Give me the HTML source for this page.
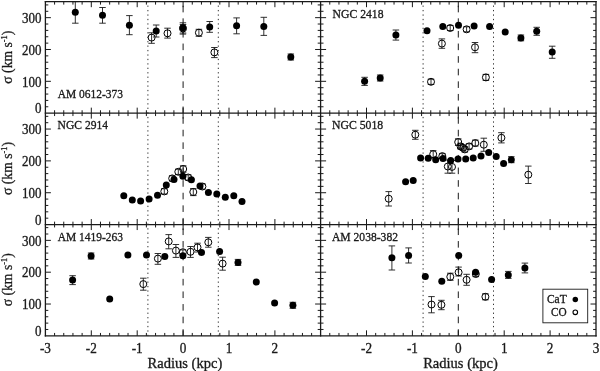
<!DOCTYPE html>
<html><head><meta charset="utf-8"><style>
html,body{margin:0;padding:0;background:#fff;}
svg{display:block;will-change:transform;}
text{font-family:"Liberation Serif",serif;fill:#1a1a1a;stroke:#1a1a1a;stroke-width:0.3px;}
</style></head><body>
<svg width="600" height="371" viewBox="0 0 600 371">
<rect width="600" height="371" fill="#fff"/>
<line x1="44.75" y1="1.70" x2="596.65" y2="1.70" stroke="#1a1a1a" stroke-width="1.3"/>
<line x1="44.75" y1="113.15" x2="596.65" y2="113.15" stroke="#1a1a1a" stroke-width="1.3"/>
<line x1="44.75" y1="224.55" x2="596.65" y2="224.55" stroke="#1a1a1a" stroke-width="1.3"/>
<line x1="44.75" y1="335.85" x2="596.65" y2="335.85" stroke="#1a1a1a" stroke-width="1.3"/>
<line x1="45.40" y1="1.10" x2="45.40" y2="336.45" stroke="#1a1a1a" stroke-width="1.3"/>
<line x1="320.60" y1="1.10" x2="320.60" y2="336.45" stroke="#1a1a1a" stroke-width="1.3"/>
<line x1="596.00" y1="1.10" x2="596.00" y2="336.45" stroke="#1a1a1a" stroke-width="1.3"/>
<path d="M54.58 1.70L54.58 4.60M54.58 110.25L54.58 116.05M54.58 221.65L54.58 227.45M54.58 332.95L54.58 335.85M63.76 1.70L63.76 4.60M63.76 110.25L63.76 116.05M63.76 221.65L63.76 227.45M63.76 332.95L63.76 335.85M72.94 1.70L72.94 4.60M72.94 110.25L72.94 116.05M72.94 221.65L72.94 227.45M72.94 332.95L72.94 335.85M82.12 1.70L82.12 4.60M82.12 110.25L82.12 116.05M82.12 221.65L82.12 227.45M82.12 332.95L82.12 335.85M91.30 1.70L91.30 7.20M91.30 107.65L91.30 118.65M91.30 219.05L91.30 230.05M91.30 330.35L91.30 335.85M100.48 1.70L100.48 4.60M100.48 110.25L100.48 116.05M100.48 221.65L100.48 227.45M100.48 332.95L100.48 335.85M109.66 1.70L109.66 4.60M109.66 110.25L109.66 116.05M109.66 221.65L109.66 227.45M109.66 332.95L109.66 335.85M118.84 1.70L118.84 4.60M118.84 110.25L118.84 116.05M118.84 221.65L118.84 227.45M118.84 332.95L118.84 335.85M128.02 1.70L128.02 4.60M128.02 110.25L128.02 116.05M128.02 221.65L128.02 227.45M128.02 332.95L128.02 335.85M137.20 1.70L137.20 7.20M137.20 107.65L137.20 118.65M137.20 219.05L137.20 230.05M137.20 330.35L137.20 335.85M146.38 1.70L146.38 4.60M146.38 110.25L146.38 116.05M146.38 221.65L146.38 227.45M146.38 332.95L146.38 335.85M155.56 1.70L155.56 4.60M155.56 110.25L155.56 116.05M155.56 221.65L155.56 227.45M155.56 332.95L155.56 335.85M164.74 1.70L164.74 4.60M164.74 110.25L164.74 116.05M164.74 221.65L164.74 227.45M164.74 332.95L164.74 335.85M173.92 1.70L173.92 4.60M173.92 110.25L173.92 116.05M173.92 221.65L173.92 227.45M173.92 332.95L173.92 335.85M183.10 1.70L183.10 7.20M183.10 107.65L183.10 118.65M183.10 219.05L183.10 230.05M183.10 330.35L183.10 335.85M192.28 1.70L192.28 4.60M192.28 110.25L192.28 116.05M192.28 221.65L192.28 227.45M192.28 332.95L192.28 335.85M201.46 1.70L201.46 4.60M201.46 110.25L201.46 116.05M201.46 221.65L201.46 227.45M201.46 332.95L201.46 335.85M210.64 1.70L210.64 4.60M210.64 110.25L210.64 116.05M210.64 221.65L210.64 227.45M210.64 332.95L210.64 335.85M219.82 1.70L219.82 4.60M219.82 110.25L219.82 116.05M219.82 221.65L219.82 227.45M219.82 332.95L219.82 335.85M229.00 1.70L229.00 7.20M229.00 107.65L229.00 118.65M229.00 219.05L229.00 230.05M229.00 330.35L229.00 335.85M238.18 1.70L238.18 4.60M238.18 110.25L238.18 116.05M238.18 221.65L238.18 227.45M238.18 332.95L238.18 335.85M247.36 1.70L247.36 4.60M247.36 110.25L247.36 116.05M247.36 221.65L247.36 227.45M247.36 332.95L247.36 335.85M256.54 1.70L256.54 4.60M256.54 110.25L256.54 116.05M256.54 221.65L256.54 227.45M256.54 332.95L256.54 335.85M265.72 1.70L265.72 4.60M265.72 110.25L265.72 116.05M265.72 221.65L265.72 227.45M265.72 332.95L265.72 335.85M274.90 1.70L274.90 7.20M274.90 107.65L274.90 118.65M274.90 219.05L274.90 230.05M274.90 330.35L274.90 335.85M284.08 1.70L284.08 4.60M284.08 110.25L284.08 116.05M284.08 221.65L284.08 227.45M284.08 332.95L284.08 335.85M293.26 1.70L293.26 4.60M293.26 110.25L293.26 116.05M293.26 221.65L293.26 227.45M293.26 332.95L293.26 335.85M302.44 1.70L302.44 4.60M302.44 110.25L302.44 116.05M302.44 221.65L302.44 227.45M302.44 332.95L302.44 335.85M311.62 1.70L311.62 4.60M311.62 110.25L311.62 116.05M311.62 221.65L311.62 227.45M311.62 332.95L311.62 335.85M329.78 1.70L329.78 4.60M329.78 110.25L329.78 116.05M329.78 221.65L329.78 227.45M329.78 332.95L329.78 335.85M338.96 1.70L338.96 4.60M338.96 110.25L338.96 116.05M338.96 221.65L338.96 227.45M338.96 332.95L338.96 335.85M348.14 1.70L348.14 4.60M348.14 110.25L348.14 116.05M348.14 221.65L348.14 227.45M348.14 332.95L348.14 335.85M357.32 1.70L357.32 4.60M357.32 110.25L357.32 116.05M357.32 221.65L357.32 227.45M357.32 332.95L357.32 335.85M366.50 1.70L366.50 7.20M366.50 107.65L366.50 118.65M366.50 219.05L366.50 230.05M366.50 330.35L366.50 335.85M375.68 1.70L375.68 4.60M375.68 110.25L375.68 116.05M375.68 221.65L375.68 227.45M375.68 332.95L375.68 335.85M384.86 1.70L384.86 4.60M384.86 110.25L384.86 116.05M384.86 221.65L384.86 227.45M384.86 332.95L384.86 335.85M394.04 1.70L394.04 4.60M394.04 110.25L394.04 116.05M394.04 221.65L394.04 227.45M394.04 332.95L394.04 335.85M403.22 1.70L403.22 4.60M403.22 110.25L403.22 116.05M403.22 221.65L403.22 227.45M403.22 332.95L403.22 335.85M412.40 1.70L412.40 7.20M412.40 107.65L412.40 118.65M412.40 219.05L412.40 230.05M412.40 330.35L412.40 335.85M421.58 1.70L421.58 4.60M421.58 110.25L421.58 116.05M421.58 221.65L421.58 227.45M421.58 332.95L421.58 335.85M430.76 1.70L430.76 4.60M430.76 110.25L430.76 116.05M430.76 221.65L430.76 227.45M430.76 332.95L430.76 335.85M439.94 1.70L439.94 4.60M439.94 110.25L439.94 116.05M439.94 221.65L439.94 227.45M439.94 332.95L439.94 335.85M449.12 1.70L449.12 4.60M449.12 110.25L449.12 116.05M449.12 221.65L449.12 227.45M449.12 332.95L449.12 335.85M458.30 1.70L458.30 7.20M458.30 107.65L458.30 118.65M458.30 219.05L458.30 230.05M458.30 330.35L458.30 335.85M467.48 1.70L467.48 4.60M467.48 110.25L467.48 116.05M467.48 221.65L467.48 227.45M467.48 332.95L467.48 335.85M476.66 1.70L476.66 4.60M476.66 110.25L476.66 116.05M476.66 221.65L476.66 227.45M476.66 332.95L476.66 335.85M485.84 1.70L485.84 4.60M485.84 110.25L485.84 116.05M485.84 221.65L485.84 227.45M485.84 332.95L485.84 335.85M495.02 1.70L495.02 4.60M495.02 110.25L495.02 116.05M495.02 221.65L495.02 227.45M495.02 332.95L495.02 335.85M504.20 1.70L504.20 7.20M504.20 107.65L504.20 118.65M504.20 219.05L504.20 230.05M504.20 330.35L504.20 335.85M513.38 1.70L513.38 4.60M513.38 110.25L513.38 116.05M513.38 221.65L513.38 227.45M513.38 332.95L513.38 335.85M522.56 1.70L522.56 4.60M522.56 110.25L522.56 116.05M522.56 221.65L522.56 227.45M522.56 332.95L522.56 335.85M531.74 1.70L531.74 4.60M531.74 110.25L531.74 116.05M531.74 221.65L531.74 227.45M531.74 332.95L531.74 335.85M540.92 1.70L540.92 4.60M540.92 110.25L540.92 116.05M540.92 221.65L540.92 227.45M540.92 332.95L540.92 335.85M550.10 1.70L550.10 7.20M550.10 107.65L550.10 118.65M550.10 219.05L550.10 230.05M550.10 330.35L550.10 335.85M559.28 1.70L559.28 4.60M559.28 110.25L559.28 116.05M559.28 221.65L559.28 227.45M559.28 332.95L559.28 335.85M568.46 1.70L568.46 4.60M568.46 110.25L568.46 116.05M568.46 221.65L568.46 227.45M568.46 332.95L568.46 335.85M577.64 1.70L577.64 4.60M577.64 110.25L577.64 116.05M577.64 221.65L577.64 227.45M577.64 332.95L577.64 335.85M586.82 1.70L586.82 4.60M586.82 110.25L586.82 116.05M586.82 221.65L586.82 227.45M586.82 332.95L586.82 335.85M45.40 106.78L48.30 106.78M317.70 106.78L323.50 106.78M593.10 106.78L596.00 106.78M45.40 100.42L48.30 100.42M317.70 100.42L323.50 100.42M593.10 100.42L596.00 100.42M45.40 94.05L48.30 94.05M317.70 94.05L323.50 94.05M593.10 94.05L596.00 94.05M45.40 87.69L48.30 87.69M317.70 87.69L323.50 87.69M593.10 87.69L596.00 87.69M45.40 81.32L50.90 81.32M315.10 81.32L326.10 81.32M590.50 81.32L596.00 81.32M45.40 74.96L48.30 74.96M317.70 74.96L323.50 74.96M593.10 74.96L596.00 74.96M45.40 68.59L48.30 68.59M317.70 68.59L323.50 68.59M593.10 68.59L596.00 68.59M45.40 62.22L48.30 62.22M317.70 62.22L323.50 62.22M593.10 62.22L596.00 62.22M45.40 55.86L48.30 55.86M317.70 55.86L323.50 55.86M593.10 55.86L596.00 55.86M45.40 49.49L50.90 49.49M315.10 49.49L326.10 49.49M590.50 49.49L596.00 49.49M45.40 43.13L48.30 43.13M317.70 43.13L323.50 43.13M593.10 43.13L596.00 43.13M45.40 36.76L48.30 36.76M317.70 36.76L323.50 36.76M593.10 36.76L596.00 36.76M45.40 30.40L48.30 30.40M317.70 30.40L323.50 30.40M593.10 30.40L596.00 30.40M45.40 24.03L48.30 24.03M317.70 24.03L323.50 24.03M593.10 24.03L596.00 24.03M45.40 17.66L50.90 17.66M315.10 17.66L326.10 17.66M590.50 17.66L596.00 17.66M45.40 11.30L48.30 11.30M317.70 11.30L323.50 11.30M593.10 11.30L596.00 11.30M45.40 4.93L48.30 4.93M317.70 4.93L323.50 4.93M593.10 4.93L596.00 4.93M45.40 218.18L48.30 218.18M317.70 218.18L323.50 218.18M593.10 218.18L596.00 218.18M45.40 211.82L48.30 211.82M317.70 211.82L323.50 211.82M593.10 211.82L596.00 211.82M45.40 205.45L48.30 205.45M317.70 205.45L323.50 205.45M593.10 205.45L596.00 205.45M45.40 199.09L48.30 199.09M317.70 199.09L323.50 199.09M593.10 199.09L596.00 199.09M45.40 192.72L50.90 192.72M315.10 192.72L326.10 192.72M590.50 192.72L596.00 192.72M45.40 186.36L48.30 186.36M317.70 186.36L323.50 186.36M593.10 186.36L596.00 186.36M45.40 179.99L48.30 179.99M317.70 179.99L323.50 179.99M593.10 179.99L596.00 179.99M45.40 173.62L48.30 173.62M317.70 173.62L323.50 173.62M593.10 173.62L596.00 173.62M45.40 167.26L48.30 167.26M317.70 167.26L323.50 167.26M593.10 167.26L596.00 167.26M45.40 160.89L50.90 160.89M315.10 160.89L326.10 160.89M590.50 160.89L596.00 160.89M45.40 154.53L48.30 154.53M317.70 154.53L323.50 154.53M593.10 154.53L596.00 154.53M45.40 148.16L48.30 148.16M317.70 148.16L323.50 148.16M593.10 148.16L596.00 148.16M45.40 141.80L48.30 141.80M317.70 141.80L323.50 141.80M593.10 141.80L596.00 141.80M45.40 135.43L48.30 135.43M317.70 135.43L323.50 135.43M593.10 135.43L596.00 135.43M45.40 129.06L50.90 129.06M315.10 129.06L326.10 129.06M590.50 129.06L596.00 129.06M45.40 122.70L48.30 122.70M317.70 122.70L323.50 122.70M593.10 122.70L596.00 122.70M45.40 116.33L48.30 116.33M317.70 116.33L323.50 116.33M593.10 116.33L596.00 116.33M45.40 329.48L48.30 329.48M317.70 329.48L323.50 329.48M593.10 329.48L596.00 329.48M45.40 323.12L48.30 323.12M317.70 323.12L323.50 323.12M593.10 323.12L596.00 323.12M45.40 316.75L48.30 316.75M317.70 316.75L323.50 316.75M593.10 316.75L596.00 316.75M45.40 310.39L48.30 310.39M317.70 310.39L323.50 310.39M593.10 310.39L596.00 310.39M45.40 304.02L50.90 304.02M315.10 304.02L326.10 304.02M590.50 304.02L596.00 304.02M45.40 297.66L48.30 297.66M317.70 297.66L323.50 297.66M593.10 297.66L596.00 297.66M45.40 291.29L48.30 291.29M317.70 291.29L323.50 291.29M593.10 291.29L596.00 291.29M45.40 284.92L48.30 284.92M317.70 284.92L323.50 284.92M593.10 284.92L596.00 284.92M45.40 278.56L48.30 278.56M317.70 278.56L323.50 278.56M593.10 278.56L596.00 278.56M45.40 272.19L50.90 272.19M315.10 272.19L326.10 272.19M590.50 272.19L596.00 272.19M45.40 265.83L48.30 265.83M317.70 265.83L323.50 265.83M593.10 265.83L596.00 265.83M45.40 259.46L48.30 259.46M317.70 259.46L323.50 259.46M593.10 259.46L596.00 259.46M45.40 253.10L48.30 253.10M317.70 253.10L323.50 253.10M593.10 253.10L596.00 253.10M45.40 246.73L48.30 246.73M317.70 246.73L323.50 246.73M593.10 246.73L596.00 246.73M45.40 240.36L50.90 240.36M315.10 240.36L326.10 240.36M590.50 240.36L596.00 240.36M45.40 234.00L48.30 234.00M317.70 234.00L323.50 234.00M593.10 234.00L596.00 234.00M45.40 227.63L48.30 227.63M317.70 227.63L323.50 227.63M593.10 227.63L596.00 227.63" stroke="#1a1a1a" stroke-width="1.0" fill="none"/>
<line x1="183.10" y1="113.15" x2="183.10" y2="1.70" stroke="#1a1a1a" stroke-width="1" stroke-dasharray="6.6 6"/>
<line x1="147.90" y1="113.40" x2="147.90" y2="1.70" stroke="#333" stroke-width="1.0" stroke-dasharray="1.3 3.14"/>
<line x1="218.30" y1="113.40" x2="218.30" y2="1.70" stroke="#333" stroke-width="1.0" stroke-dasharray="1.3 3.14"/>
<line x1="458.30" y1="113.15" x2="458.30" y2="1.70" stroke="#1a1a1a" stroke-width="1" stroke-dasharray="6.6 6"/>
<line x1="423.10" y1="113.40" x2="423.10" y2="1.70" stroke="#333" stroke-width="1.0" stroke-dasharray="1.3 3.14"/>
<line x1="493.50" y1="113.40" x2="493.50" y2="1.70" stroke="#333" stroke-width="1.0" stroke-dasharray="1.3 3.14"/>
<line x1="183.10" y1="224.55" x2="183.10" y2="113.15" stroke="#1a1a1a" stroke-width="1" stroke-dasharray="6.6 6"/>
<line x1="147.90" y1="224.80" x2="147.90" y2="113.15" stroke="#333" stroke-width="1.0" stroke-dasharray="1.3 3.14"/>
<line x1="218.30" y1="224.80" x2="218.30" y2="113.15" stroke="#333" stroke-width="1.0" stroke-dasharray="1.3 3.14"/>
<line x1="458.30" y1="224.55" x2="458.30" y2="113.15" stroke="#1a1a1a" stroke-width="1" stroke-dasharray="6.6 6"/>
<line x1="423.10" y1="224.80" x2="423.10" y2="113.15" stroke="#333" stroke-width="1.0" stroke-dasharray="1.3 3.14"/>
<line x1="493.50" y1="224.80" x2="493.50" y2="113.15" stroke="#333" stroke-width="1.0" stroke-dasharray="1.3 3.14"/>
<line x1="183.10" y1="335.85" x2="183.10" y2="224.55" stroke="#1a1a1a" stroke-width="1" stroke-dasharray="6.6 6"/>
<line x1="147.90" y1="336.10" x2="147.90" y2="224.55" stroke="#333" stroke-width="1.0" stroke-dasharray="1.3 3.14"/>
<line x1="218.30" y1="336.10" x2="218.30" y2="224.55" stroke="#333" stroke-width="1.0" stroke-dasharray="1.3 3.14"/>
<line x1="458.30" y1="335.85" x2="458.30" y2="224.55" stroke="#1a1a1a" stroke-width="1" stroke-dasharray="6.6 6"/>
<line x1="423.10" y1="336.10" x2="423.10" y2="224.55" stroke="#333" stroke-width="1.0" stroke-dasharray="1.3 3.14"/>
<line x1="493.50" y1="336.10" x2="493.50" y2="224.55" stroke="#333" stroke-width="1.0" stroke-dasharray="1.3 3.14"/>
<path d="M214.40 47.50V57.60M211.15 47.50H217.65M211.15 57.60H217.65" stroke="#1a1a1a" stroke-width="0.9" fill="none"/><circle cx="214.40" cy="52.40" r="3.5" fill="none" stroke="#000" stroke-width="1.0"/>
<path d="M151.60 32.80V43.30M148.35 32.80H154.85M148.35 43.30H154.85" stroke="#1a1a1a" stroke-width="0.9" fill="none"/><circle cx="151.60" cy="37.60" r="3.5" fill="none" stroke="#000" stroke-width="1.0"/>
<path d="M167.50 28.20V38.10M164.25 28.20H170.75M164.25 38.10H170.75" stroke="#1a1a1a" stroke-width="0.9" fill="none"/><circle cx="167.50" cy="33.30" r="3.5" fill="none" stroke="#000" stroke-width="1.0"/>
<path d="M183.00 24.50V33.00M179.75 24.50H186.25M179.75 33.00H186.25" stroke="#1a1a1a" stroke-width="0.9" fill="none"/><circle cx="183.00" cy="28.50" r="3.5" fill="none" stroke="#000" stroke-width="1.0"/>
<path d="M198.90 29.30V36.30M195.65 29.30H202.15M195.65 36.30H202.15" stroke="#1a1a1a" stroke-width="0.9" fill="none"/><circle cx="198.90" cy="32.70" r="3.5" fill="none" stroke="#000" stroke-width="1.0"/>
<path d="M431.00 79.20V84.40M427.75 79.20H434.25M427.75 84.40H434.25" stroke="#1a1a1a" stroke-width="0.9" fill="none"/><circle cx="431.00" cy="81.80" r="3.5" fill="none" stroke="#000" stroke-width="1.0"/>
<path d="M441.90 38.90V48.30M438.65 38.90H445.15M438.65 48.30H445.15" stroke="#1a1a1a" stroke-width="0.9" fill="none"/><circle cx="441.90" cy="43.60" r="3.5" fill="none" stroke="#000" stroke-width="1.0"/>
<path d="M450.20 25.50V30.50M446.95 25.50H453.45M446.95 30.50H453.45" stroke="#1a1a1a" stroke-width="0.9" fill="none"/><circle cx="450.20" cy="28.00" r="3.5" fill="none" stroke="#000" stroke-width="1.0"/>
<path d="M466.60 26.80V31.80M463.35 26.80H469.85M463.35 31.80H469.85" stroke="#1a1a1a" stroke-width="0.9" fill="none"/><circle cx="466.60" cy="29.30" r="3.5" fill="none" stroke="#000" stroke-width="1.0"/>
<path d="M475.00 42.50V52.70M471.75 42.50H478.25M471.75 52.70H478.25" stroke="#1a1a1a" stroke-width="0.9" fill="none"/><circle cx="475.00" cy="47.30" r="3.5" fill="none" stroke="#000" stroke-width="1.0"/>
<path d="M485.90 74.40V80.40M482.65 74.40H489.15M482.65 80.40H489.15" stroke="#1a1a1a" stroke-width="0.9" fill="none"/><circle cx="485.90" cy="77.40" r="3.5" fill="none" stroke="#000" stroke-width="1.0"/>
<path d="M164.30 188.80V194.00M161.05 188.80H167.55M161.05 194.00H167.55" stroke="#1a1a1a" stroke-width="0.9" fill="none"/><circle cx="164.30" cy="191.40" r="3.5" fill="none" stroke="#000" stroke-width="1.0"/>
<path d="M172.20 175.80V181.00M168.95 175.80H175.45M168.95 181.00H175.45" stroke="#1a1a1a" stroke-width="0.9" fill="none"/><circle cx="172.20" cy="178.40" r="3.5" fill="none" stroke="#000" stroke-width="1.0"/>
<path d="M178.30 169.20V174.40M175.05 169.20H181.55M175.05 174.40H181.55" stroke="#1a1a1a" stroke-width="0.9" fill="none"/><circle cx="178.30" cy="171.80" r="3.5" fill="none" stroke="#000" stroke-width="1.0"/>
<path d="M183.20 165.80V172.20M179.95 165.80H186.45M179.95 172.20H186.45" stroke="#1a1a1a" stroke-width="0.9" fill="none"/><circle cx="183.20" cy="169.00" r="3.5" fill="none" stroke="#000" stroke-width="1.0"/>
<path d="M188.20 174.90V180.10M184.95 174.90H191.45M184.95 180.10H191.45" stroke="#1a1a1a" stroke-width="0.9" fill="none"/><circle cx="188.20" cy="177.50" r="3.5" fill="none" stroke="#000" stroke-width="1.0"/>
<path d="M193.30 188.60V195.60M190.05 188.60H196.55M190.05 195.60H196.55" stroke="#1a1a1a" stroke-width="0.9" fill="none"/><circle cx="193.30" cy="192.00" r="3.5" fill="none" stroke="#000" stroke-width="1.0"/>
<path d="M202.40 183.90V189.10M199.15 183.90H205.65M199.15 189.10H205.65" stroke="#1a1a1a" stroke-width="0.9" fill="none"/><circle cx="202.40" cy="186.50" r="3.5" fill="none" stroke="#000" stroke-width="1.0"/>
<path d="M388.70 191.60V206.00M385.45 191.60H391.95M385.45 206.00H391.95" stroke="#1a1a1a" stroke-width="0.9" fill="none"/><circle cx="388.70" cy="198.70" r="3.5" fill="none" stroke="#000" stroke-width="1.0"/>
<path d="M415.30 130.30V139.30M412.05 130.30H418.55M412.05 139.30H418.55" stroke="#1a1a1a" stroke-width="0.9" fill="none"/><circle cx="415.30" cy="134.70" r="3.5" fill="none" stroke="#000" stroke-width="1.0"/>
<path d="M433.20 150.60V158.00M429.95 150.60H436.45M429.95 158.00H436.45" stroke="#1a1a1a" stroke-width="0.9" fill="none"/><circle cx="433.20" cy="154.20" r="3.5" fill="none" stroke="#000" stroke-width="1.0"/>
<path d="M442.30 153.70V158.50M439.05 153.70H445.55M439.05 158.50H445.55" stroke="#1a1a1a" stroke-width="0.9" fill="none"/><circle cx="442.30" cy="156.10" r="3.5" fill="none" stroke="#000" stroke-width="1.0"/>
<path d="M447.80 160.00V173.20M444.55 160.00H451.05M444.55 173.20H451.05" stroke="#1a1a1a" stroke-width="0.9" fill="none"/><circle cx="447.80" cy="166.50" r="3.5" fill="none" stroke="#000" stroke-width="1.0"/>
<path d="M452.00 160.50V173.20M448.75 160.50H455.25M448.75 173.20H455.25" stroke="#1a1a1a" stroke-width="0.9" fill="none"/><circle cx="452.00" cy="166.90" r="3.5" fill="none" stroke="#000" stroke-width="1.0"/>
<path d="M458.20 138.80V145.50M454.95 138.80H461.45M454.95 145.50H461.45" stroke="#1a1a1a" stroke-width="0.9" fill="none"/><circle cx="458.20" cy="142.10" r="3.5" fill="none" stroke="#000" stroke-width="1.0"/>
<path d="M460.60 143.80V149.00M457.35 143.80H463.85M457.35 149.00H463.85" stroke="#1a1a1a" stroke-width="0.9" fill="none"/><circle cx="460.60" cy="146.40" r="3.5" fill="none" stroke="#000" stroke-width="1.0"/>
<path d="M463.00 145.20V150.40M459.75 145.20H466.25M459.75 150.40H466.25" stroke="#1a1a1a" stroke-width="0.9" fill="none"/><circle cx="463.00" cy="147.80" r="3.5" fill="none" stroke="#000" stroke-width="1.0"/>
<path d="M464.80 146.80V152.00M461.55 146.80H468.05M461.55 152.00H468.05" stroke="#1a1a1a" stroke-width="0.9" fill="none"/><circle cx="464.80" cy="149.40" r="3.5" fill="none" stroke="#000" stroke-width="1.0"/>
<path d="M469.10 143.80V149.00M465.85 143.80H472.35M465.85 149.00H472.35" stroke="#1a1a1a" stroke-width="0.9" fill="none"/><circle cx="469.10" cy="146.40" r="3.5" fill="none" stroke="#000" stroke-width="1.0"/>
<path d="M475.30 140.10V146.00M472.05 140.10H478.55M472.05 146.00H478.55" stroke="#1a1a1a" stroke-width="0.9" fill="none"/><circle cx="475.30" cy="143.10" r="3.5" fill="none" stroke="#000" stroke-width="1.0"/>
<path d="M483.80 138.20V151.30M480.55 138.20H487.05M480.55 151.30H487.05" stroke="#1a1a1a" stroke-width="0.9" fill="none"/><circle cx="483.80" cy="144.70" r="3.5" fill="none" stroke="#000" stroke-width="1.0"/>
<path d="M501.40 132.70V142.90M498.15 132.70H504.65M498.15 142.90H504.65" stroke="#1a1a1a" stroke-width="0.9" fill="none"/><circle cx="501.40" cy="137.80" r="3.5" fill="none" stroke="#000" stroke-width="1.0"/>
<path d="M528.30 166.10V183.50M525.05 166.10H531.55M525.05 183.50H531.55" stroke="#1a1a1a" stroke-width="0.9" fill="none"/><circle cx="528.30" cy="174.70" r="3.5" fill="none" stroke="#000" stroke-width="1.0"/>
<path d="M143.30 278.20V290.20M140.05 278.20H146.55M140.05 290.20H146.55" stroke="#1a1a1a" stroke-width="0.9" fill="none"/><circle cx="143.30" cy="284.10" r="3.5" fill="none" stroke="#000" stroke-width="1.0"/>
<path d="M157.90 253.50V264.30M154.65 253.50H161.15M154.65 264.30H161.15" stroke="#1a1a1a" stroke-width="0.9" fill="none"/><circle cx="157.90" cy="258.60" r="3.5" fill="none" stroke="#000" stroke-width="1.0"/>
<path d="M168.70 234.60V248.80M165.45 234.60H171.95M165.45 248.80H171.95" stroke="#1a1a1a" stroke-width="0.9" fill="none"/><circle cx="168.70" cy="241.40" r="3.5" fill="none" stroke="#000" stroke-width="1.0"/>
<path d="M175.90 244.50V257.40M172.65 244.50H179.15M172.65 257.40H179.15" stroke="#1a1a1a" stroke-width="0.9" fill="none"/><circle cx="175.90" cy="250.60" r="3.5" fill="none" stroke="#000" stroke-width="1.0"/>
<path d="M182.90 249.90V255.50M179.65 249.90H186.15M179.65 255.50H186.15" stroke="#1a1a1a" stroke-width="0.9" fill="none"/><circle cx="182.90" cy="252.20" r="3.5" fill="none" stroke="#000" stroke-width="1.0"/>
<path d="M190.50 246.50V257.40M187.25 246.50H193.75M187.25 257.40H193.75" stroke="#1a1a1a" stroke-width="0.9" fill="none"/><circle cx="190.50" cy="251.80" r="3.5" fill="none" stroke="#000" stroke-width="1.0"/>
<path d="M197.50 243.20V252.00M194.25 243.20H200.75M194.25 252.00H200.75" stroke="#1a1a1a" stroke-width="0.9" fill="none"/><circle cx="197.50" cy="247.40" r="3.5" fill="none" stroke="#000" stroke-width="1.0"/>
<path d="M208.30 237.40V247.20M205.05 237.40H211.55M205.05 247.20H211.55" stroke="#1a1a1a" stroke-width="0.9" fill="none"/><circle cx="208.30" cy="242.30" r="3.5" fill="none" stroke="#000" stroke-width="1.0"/>
<path d="M222.60 257.20V270.20M219.35 257.20H225.85M219.35 270.20H225.85" stroke="#1a1a1a" stroke-width="0.9" fill="none"/><circle cx="222.60" cy="263.60" r="3.5" fill="none" stroke="#000" stroke-width="1.0"/>
<path d="M431.50 296.60V312.80M428.25 296.60H434.75M428.25 312.80H434.75" stroke="#1a1a1a" stroke-width="0.9" fill="none"/><circle cx="431.50" cy="304.50" r="3.5" fill="none" stroke="#000" stroke-width="1.0"/>
<path d="M441.40 300.30V309.70M438.15 300.30H444.65M438.15 309.70H444.65" stroke="#1a1a1a" stroke-width="0.9" fill="none"/><circle cx="441.40" cy="304.80" r="3.5" fill="none" stroke="#000" stroke-width="1.0"/>
<path d="M450.30 273.20V280.30M447.05 273.20H453.55M447.05 280.30H453.55" stroke="#1a1a1a" stroke-width="0.9" fill="none"/><circle cx="450.30" cy="276.80" r="3.5" fill="none" stroke="#000" stroke-width="1.0"/>
<path d="M458.60 267.10V276.00M455.35 267.10H461.85M455.35 276.00H461.85" stroke="#1a1a1a" stroke-width="0.9" fill="none"/><circle cx="458.60" cy="272.30" r="3.5" fill="none" stroke="#000" stroke-width="1.0"/>
<path d="M466.60 274.30V285.30M463.35 274.30H469.85M463.35 285.30H469.85" stroke="#1a1a1a" stroke-width="0.9" fill="none"/><circle cx="466.60" cy="279.80" r="3.5" fill="none" stroke="#000" stroke-width="1.0"/>
<path d="M475.80 271.40V276.60M472.55 271.40H479.05M472.55 276.60H479.05" stroke="#1a1a1a" stroke-width="0.9" fill="none"/><circle cx="475.80" cy="274.00" r="3.5" fill="none" stroke="#000" stroke-width="1.0"/>
<path d="M485.40 293.80V299.80M482.15 293.80H488.65M482.15 299.80H488.65" stroke="#1a1a1a" stroke-width="0.9" fill="none"/><circle cx="485.40" cy="296.80" r="3.5" fill="none" stroke="#000" stroke-width="1.0"/>
<path d="M75.30 1.60V23.20M72.05 1.60H78.55M72.05 23.20H78.55" stroke="#1a1a1a" stroke-width="0.9" fill="none"/><circle cx="75.30" cy="12.30" r="3.5" fill="#000"/>
<path d="M102.50 7.50V23.20M99.25 7.50H105.75M99.25 23.20H105.75" stroke="#1a1a1a" stroke-width="0.9" fill="none"/><circle cx="102.50" cy="15.30" r="3.5" fill="#000"/>
<path d="M129.40 15.60V34.70M126.15 15.60H132.65M126.15 34.70H132.65" stroke="#1a1a1a" stroke-width="0.9" fill="none"/><circle cx="129.40" cy="25.20" r="3.5" fill="#000"/>
<path d="M156.20 25.00V37.00M152.95 25.00H159.45M152.95 37.00H159.45" stroke="#1a1a1a" stroke-width="0.9" fill="none"/><circle cx="156.20" cy="30.90" r="3.5" fill="#000"/>
<path d="M182.90 22.80V34.10M179.65 22.80H186.15M179.65 34.10H186.15" stroke="#1a1a1a" stroke-width="0.9" fill="none"/><circle cx="182.90" cy="27.70" r="3.5" fill="#000"/>
<path d="M209.70 21.50V32.30M206.45 21.50H212.95M206.45 32.30H212.95" stroke="#1a1a1a" stroke-width="0.9" fill="none"/><circle cx="209.70" cy="26.90" r="3.5" fill="#000"/>
<path d="M236.60 17.90V33.80M233.35 17.90H239.85M233.35 33.80H239.85" stroke="#1a1a1a" stroke-width="0.9" fill="none"/><circle cx="236.60" cy="25.70" r="3.5" fill="#000"/>
<path d="M263.80 17.30V35.40M260.55 17.30H267.05M260.55 35.40H267.05" stroke="#1a1a1a" stroke-width="0.9" fill="none"/><circle cx="263.80" cy="26.50" r="3.5" fill="#000"/>
<path d="M290.80 54.00V60.00M287.55 54.00H294.05M287.55 60.00H294.05" stroke="#1a1a1a" stroke-width="0.9" fill="none"/><circle cx="290.80" cy="57.00" r="3.5" fill="#000"/>
<path d="M364.60 77.30V85.40M361.35 77.30H367.85M361.35 85.40H367.85" stroke="#1a1a1a" stroke-width="0.9" fill="none"/><circle cx="364.60" cy="81.30" r="3.5" fill="#000"/>
<path d="M380.20 75.00V81.00M376.95 75.00H383.45M376.95 81.00H383.45" stroke="#1a1a1a" stroke-width="0.9" fill="none"/><circle cx="380.20" cy="78.10" r="3.5" fill="#000"/>
<path d="M395.90 30.00V40.10M392.65 30.00H399.15M392.65 40.10H399.15" stroke="#1a1a1a" stroke-width="0.9" fill="none"/><circle cx="395.90" cy="34.90" r="3.5" fill="#000"/>
<circle cx="427.00" cy="30.80" r="3.5" fill="#000"/>
<circle cx="442.80" cy="26.40" r="3.5" fill="#000"/>
<circle cx="458.50" cy="25.20" r="3.5" fill="#000"/>
<circle cx="474.10" cy="26.00" r="3.5" fill="#000"/>
<circle cx="489.60" cy="26.60" r="3.5" fill="#000"/>
<circle cx="505.20" cy="32.10" r="3.5" fill="#000"/>
<path d="M520.90 35.00V40.80M517.65 35.00H524.15M517.65 40.80H524.15" stroke="#1a1a1a" stroke-width="0.9" fill="none"/><circle cx="520.90" cy="37.90" r="3.5" fill="#000"/>
<path d="M536.70 27.30V35.30M533.45 27.30H539.95M533.45 35.30H539.95" stroke="#1a1a1a" stroke-width="0.9" fill="none"/><circle cx="536.70" cy="31.30" r="3.5" fill="#000"/>
<path d="M552.20 46.20V58.30M548.95 46.20H555.45M548.95 58.30H555.45" stroke="#1a1a1a" stroke-width="0.9" fill="none"/><circle cx="552.20" cy="52.10" r="3.5" fill="#000"/>
<circle cx="123.80" cy="195.70" r="3.5" fill="#000"/>
<circle cx="132.30" cy="200.00" r="3.5" fill="#000"/>
<circle cx="140.60" cy="200.90" r="3.5" fill="#000"/>
<circle cx="149.10" cy="199.10" r="3.5" fill="#000"/>
<circle cx="157.50" cy="195.30" r="3.5" fill="#000"/>
<circle cx="166.30" cy="185.00" r="3.5" fill="#000"/>
<circle cx="174.00" cy="179.50" r="3.5" fill="#000"/>
<circle cx="182.90" cy="176.20" r="3.5" fill="#000"/>
<circle cx="191.40" cy="179.80" r="3.5" fill="#000"/>
<circle cx="200.00" cy="186.00" r="3.5" fill="#000"/>
<circle cx="208.40" cy="192.60" r="3.5" fill="#000"/>
<circle cx="216.80" cy="194.00" r="3.5" fill="#000"/>
<circle cx="225.30" cy="197.30" r="3.5" fill="#000"/>
<circle cx="233.80" cy="195.80" r="3.5" fill="#000"/>
<circle cx="242.00" cy="201.50" r="3.5" fill="#000"/>
<circle cx="405.60" cy="181.80" r="3.5" fill="#000"/>
<circle cx="413.20" cy="180.60" r="3.5" fill="#000"/>
<circle cx="420.60" cy="158.00" r="3.5" fill="#000"/>
<circle cx="428.20" cy="158.20" r="3.5" fill="#000"/>
<circle cx="435.70" cy="159.80" r="3.5" fill="#000"/>
<circle cx="443.00" cy="158.60" r="3.5" fill="#000"/>
<circle cx="450.70" cy="160.50" r="3.5" fill="#000"/>
<circle cx="458.00" cy="159.10" r="3.5" fill="#000"/>
<circle cx="465.70" cy="159.10" r="3.5" fill="#000"/>
<circle cx="473.20" cy="158.00" r="3.5" fill="#000"/>
<circle cx="481.00" cy="156.00" r="3.5" fill="#000"/>
<circle cx="488.70" cy="152.50" r="3.5" fill="#000"/>
<circle cx="496.20" cy="156.60" r="3.5" fill="#000"/>
<circle cx="503.60" cy="163.40" r="3.5" fill="#000"/>
<path d="M511.30 156.70V162.70M508.05 156.70H514.55M508.05 162.70H514.55" stroke="#1a1a1a" stroke-width="0.9" fill="none"/><circle cx="511.30" cy="159.70" r="3.5" fill="#000"/>
<path d="M72.60 275.70V284.60M69.35 275.70H75.85M69.35 284.60H75.85" stroke="#1a1a1a" stroke-width="0.9" fill="none"/><circle cx="72.60" cy="280.10" r="3.5" fill="#000"/>
<path d="M91.10 253.00V259.00M87.85 253.00H94.35M87.85 259.00H94.35" stroke="#1a1a1a" stroke-width="0.9" fill="none"/><circle cx="91.10" cy="256.00" r="3.5" fill="#000"/>
<circle cx="109.70" cy="298.90" r="3.5" fill="#000"/>
<circle cx="127.90" cy="255.10" r="3.5" fill="#000"/>
<circle cx="146.50" cy="255.10" r="3.5" fill="#000"/>
<circle cx="164.80" cy="256.50" r="3.5" fill="#000"/>
<circle cx="182.90" cy="255.80" r="3.5" fill="#000"/>
<circle cx="201.50" cy="252.50" r="3.5" fill="#000"/>
<circle cx="219.60" cy="251.50" r="3.5" fill="#000"/>
<path d="M238.00 259.40V265.40M234.75 259.40H241.25M234.75 265.40H241.25" stroke="#1a1a1a" stroke-width="0.9" fill="none"/><circle cx="238.00" cy="262.40" r="3.5" fill="#000"/>
<circle cx="256.30" cy="282.00" r="3.5" fill="#000"/>
<circle cx="274.60" cy="303.10" r="3.5" fill="#000"/>
<path d="M292.90 302.30V308.30M289.65 302.30H296.15M289.65 308.30H296.15" stroke="#1a1a1a" stroke-width="0.9" fill="none"/><circle cx="292.90" cy="305.30" r="3.5" fill="#000"/>
<path d="M391.90 245.90V270.00M388.65 245.90H395.15M388.65 270.00H395.15" stroke="#1a1a1a" stroke-width="0.9" fill="none"/><circle cx="391.90" cy="257.80" r="3.5" fill="#000"/>
<path d="M408.60 247.90V263.00M405.35 247.90H411.85M405.35 263.00H411.85" stroke="#1a1a1a" stroke-width="0.9" fill="none"/><circle cx="408.60" cy="255.60" r="3.5" fill="#000"/>
<circle cx="425.30" cy="276.50" r="3.5" fill="#000"/>
<circle cx="441.80" cy="281.20" r="3.5" fill="#000"/>
<circle cx="458.70" cy="255.50" r="3.5" fill="#000"/>
<circle cx="475.60" cy="272.20" r="3.5" fill="#000"/>
<circle cx="491.60" cy="279.60" r="3.5" fill="#000"/>
<path d="M508.30 271.40V278.40M505.05 271.40H511.55M505.05 278.40H511.55" stroke="#1a1a1a" stroke-width="0.9" fill="none"/><circle cx="508.30" cy="275.00" r="3.5" fill="#000"/>
<path d="M524.90 263.10V272.90M521.65 263.10H528.15M521.65 272.90H528.15" stroke="#1a1a1a" stroke-width="0.9" fill="none"/><circle cx="524.90" cy="268.10" r="3.5" fill="#000"/>
<text transform="translate(57.7 97.6) scale(1 1.08)" font-size="11.7" text-anchor="start" textLength="65.3" lengthAdjust="spacingAndGlyphs">AM 0612-373</text>
<text transform="translate(332.6 17.8) scale(1 1.08)" font-size="11.7" text-anchor="start" textLength="50.9" lengthAdjust="spacingAndGlyphs">NGC 2418</text>
<text transform="translate(57.6 129.0) scale(1 1.08)" font-size="11.7" text-anchor="start" textLength="50.4" lengthAdjust="spacingAndGlyphs">NGC 2914</text>
<text transform="translate(332.0 129.3) scale(1 1.08)" font-size="11.7" text-anchor="start" textLength="51.2" lengthAdjust="spacingAndGlyphs">NGC 5018</text>
<text transform="translate(57.7 240.7) scale(1 1.08)" font-size="11.7" text-anchor="start" textLength="65.4" lengthAdjust="spacingAndGlyphs">AM 1419-263</text>
<text transform="translate(332.0 240.5) scale(1 1.08)" font-size="11.7" text-anchor="start" textLength="66.0" lengthAdjust="spacingAndGlyphs">AM 2038-382</text>
<text transform="translate(41.5 113.15) scale(1 1.07)" font-size="13.0" text-anchor="end">0</text>
<text transform="translate(41.5 86.52) scale(1 1.07)" font-size="13.0" text-anchor="end">100</text>
<text transform="translate(41.5 54.69) scale(1 1.07)" font-size="13.0" text-anchor="end">200</text>
<text transform="translate(41.5 22.86) scale(1 1.07)" font-size="13.0" text-anchor="end">300</text>
<text transform="translate(41.5 224.55) scale(1 1.07)" font-size="13.0" text-anchor="end">0</text>
<text transform="translate(41.5 197.92) scale(1 1.07)" font-size="13.0" text-anchor="end">100</text>
<text transform="translate(41.5 166.09) scale(1 1.07)" font-size="13.0" text-anchor="end">200</text>
<text transform="translate(41.5 134.26) scale(1 1.07)" font-size="13.0" text-anchor="end">300</text>
<text transform="translate(41.5 335.85) scale(1 1.07)" font-size="13.0" text-anchor="end">0</text>
<text transform="translate(41.5 309.22) scale(1 1.07)" font-size="13.0" text-anchor="end">100</text>
<text transform="translate(41.5 277.39) scale(1 1.07)" font-size="13.0" text-anchor="end">200</text>
<text transform="translate(41.5 245.56) scale(1 1.07)" font-size="13.0" text-anchor="end">300</text>
<text transform="translate(45.40 353.2) scale(1 1.14)" font-size="13.2" text-anchor="middle">-3</text>
<text transform="translate(91.30 353.2) scale(1 1.14)" font-size="13.2" text-anchor="middle">-2</text>
<text transform="translate(137.20 353.2) scale(1 1.14)" font-size="13.2" text-anchor="middle">-1</text>
<text transform="translate(183.10 353.2) scale(1 1.14)" font-size="13.2" text-anchor="middle">0</text>
<text transform="translate(229.00 353.2) scale(1 1.14)" font-size="13.2" text-anchor="middle">1</text>
<text transform="translate(274.90 353.2) scale(1 1.14)" font-size="13.2" text-anchor="middle">2</text>
<text transform="translate(366.50 353.2) scale(1 1.14)" font-size="13.2" text-anchor="middle">-2</text>
<text transform="translate(412.40 353.2) scale(1 1.14)" font-size="13.2" text-anchor="middle">-1</text>
<text transform="translate(458.30 353.2) scale(1 1.14)" font-size="13.2" text-anchor="middle">0</text>
<text transform="translate(504.20 353.2) scale(1 1.14)" font-size="13.2" text-anchor="middle">1</text>
<text transform="translate(550.10 353.2) scale(1 1.14)" font-size="13.2" text-anchor="middle">2</text>
<text transform="translate(596.00 353.2) scale(1 1.14)" font-size="13.2" text-anchor="middle">3</text>
<text x="184.9" y="367.9" font-size="13.8" text-anchor="middle" textLength="74.7" lengthAdjust="spacingAndGlyphs">Radius (kpc)</text>
<text x="460.5" y="367.9" font-size="13.8" text-anchor="middle" textLength="74.7" lengthAdjust="spacingAndGlyphs">Radius (kpc)</text>
<text transform="translate(11.8 57.2) rotate(-90)" font-size="14" text-anchor="middle" textLength="53" lengthAdjust="spacingAndGlyphs">σ (km s<tspan font-size="8.5" dy="-4.8">-1</tspan><tspan dy="4.8">)</tspan></text>
<text transform="translate(11.8 168.5) rotate(-90)" font-size="14" text-anchor="middle" textLength="53" lengthAdjust="spacingAndGlyphs">σ (km s<tspan font-size="8.5" dy="-4.8">-1</tspan><tspan dy="4.8">)</tspan></text>
<text transform="translate(11.8 279.8) rotate(-90)" font-size="14" text-anchor="middle" textLength="53" lengthAdjust="spacingAndGlyphs">σ (km s<tspan font-size="8.5" dy="-4.8">-1</tspan><tspan dy="4.8">)</tspan></text>
<rect x="542.9" y="289.2" width="44.8" height="33.6" fill="#fff" stroke="#1a1a1a" stroke-width="0.9"/>
<text x="566.8" y="302.6" font-size="11.6" text-anchor="end" textLength="19.9" lengthAdjust="spacingAndGlyphs">CaT</text>
<text x="566.6" y="315.9" font-size="11.6" text-anchor="end" textLength="15.7" lengthAdjust="spacingAndGlyphs">CO</text>
<circle cx="575.3" cy="299.4" r="2.75" fill="#000"/>
<circle cx="575.3" cy="312.3" r="2.3" fill="none" stroke="#000" stroke-width="1.1"/>
</svg>
</body></html>
